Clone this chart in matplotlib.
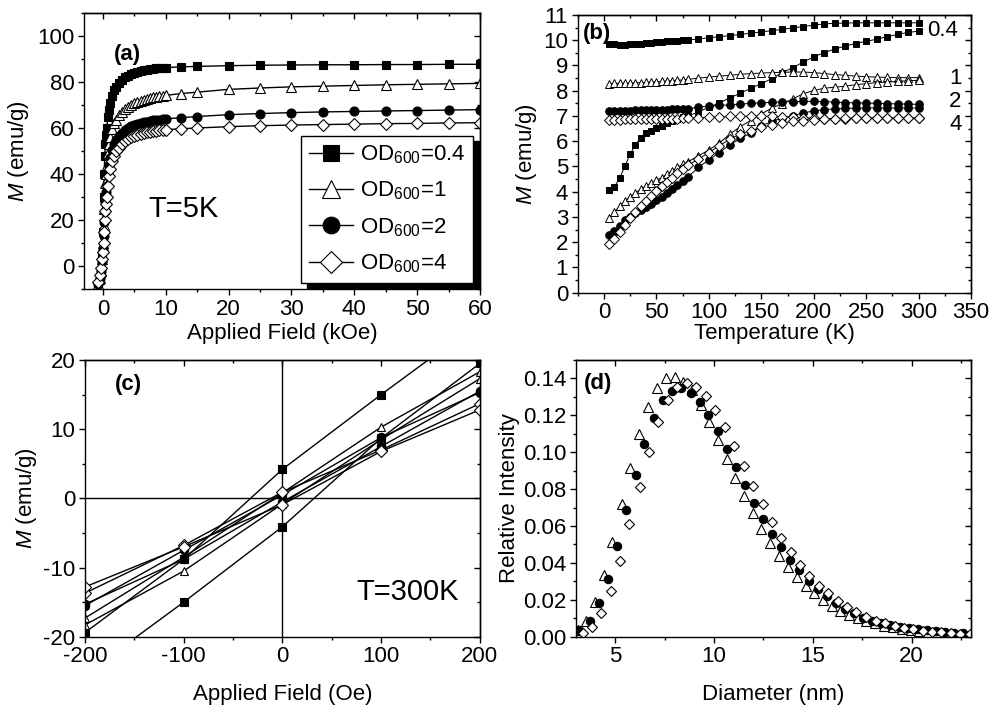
import matplotlib
matplotlib.use("Agg")
import matplotlib.pyplot as plt
from matplotlib.ticker import MultipleLocator, FormatStrFormatter
from matplotlib.patches import Rectangle
from matplotlib.transforms import IdentityTransform

plt.rcParams['font.family'] = ['Liberation Sans', 'DejaVu Sans']
plt.rcParams['mathtext.fontset'] = 'custom'
plt.rcParams['mathtext.rm'] = 'Liberation Sans'
plt.rcParams['mathtext.it'] = 'Liberation Sans:italic'
plt.rcParams['axes.linewidth'] = 1.0
plt.rcParams['axes.unicode_minus'] = False

# ---- (a) M-H a 5 K ----
H_a = [-0.8, -0.5, -0.3, -0.1, 0, 0.1, 0.2, 0.3, 0.4, 0.5, 0.6, 0.8, 1.0, 1.2, 1.5,
       1.8, 2.1, 2.5, 3.0, 3.5, 4.0, 4.5, 5.0, 5.5, 6.0, 6.5, 7.0, 7.5, 8.0, 8.5,
       9.0, 9.5, 10, 12.5, 15, 20, 25, 30, 35, 40, 45, 50, 55, 60]
M_a_04 = [-9, -6, -3, 5, 15, 30, 40, 48, 53, 57, 60, 65, 68, 71, 74,
          76.5, 78, 79.5, 81, 82, 82.8, 83.5, 84, 84.4, 84.8, 85.1, 85.4, 85.6, 85.8, 86,
          86.1, 86.2, 86.3, 86.6, 86.8, 87.1, 87.3, 87.4, 87.5, 87.5, 87.6, 87.6, 87.7, 87.7]
M_a_1 = [-8, -5, -2, 3, 10, 18, 25, 31, 36, 40, 44, 49, 53, 56, 59.5,
         62, 63.5, 65.5, 67, 68.3, 69.3, 70.1, 70.8, 71.4, 71.9, 72.3, 72.7, 73, 73.3, 73.6,
         73.8, 74, 74.2, 75, 75.6, 76.8, 77.4, 77.9, 78.2, 78.5, 78.8, 79, 79.2, 79.4]
M_a_2 = [-8, -5, -2, 2, 7, 13, 19, 24, 28, 32, 35, 40, 44, 47, 50.5,
         53, 54.8, 56.5, 58, 59.2, 60, 60.7, 61.3, 61.7, 62.1, 62.5, 62.8, 63.1, 63.3, 63.5,
         63.7, 63.9, 64, 64.5, 65, 65.8, 66.3, 66.7, 67, 67.2, 67.4, 67.6, 67.8, 68]
M_a_4 = [-7, -4, -1, 3, 6, 10, 15, 20, 24, 27, 30, 35, 39, 42, 45.5,
         48, 49.8, 51.5, 53, 54.3, 55.2, 55.9, 56.5, 57, 57.4, 57.8, 58.1, 58.4, 58.6, 58.8,
         59, 59.2, 59.3, 59.7, 60, 60.6, 61, 61.3, 61.5, 61.7, 61.9, 62, 62.2, 62.3]
etiquetas_od = ['OD$_{600}$=0.4', 'OD$_{600}$=1', 'OD$_{600}$=2', 'OD$_{600}$=4']

# ---- (b) ZFC / FC ----
T_b = [5, 10, 15, 20, 25, 30, 35, 40, 45, 50, 55, 60, 65, 70, 75, 80,
       90, 100, 110, 120, 130, 140, 150, 160, 170, 180, 190, 200, 210, 220, 230,
       240, 250, 260, 270, 280, 290, 300]
FC_04 = [9.86, 9.84, 9.83, 9.83, 9.84, 9.85, 9.87, 9.89, 9.91, 9.93, 9.95, 9.96, 9.98, 9.99, 10.0, 10.01,
         10.05, 10.1, 10.14, 10.18, 10.23, 10.28, 10.33, 10.38, 10.43, 10.49, 10.54, 10.6, 10.65, 10.67, 10.68,
         10.69, 10.69, 10.69, 10.69, 10.69, 10.69, 10.69]
ZFC_04 = [4.07, 4.2, 4.53, 5.02, 5.49, 5.86, 6.14, 6.32, 6.42, 6.51, 6.6, 6.72, 6.8, 6.88, 6.95, 7.01,
          7.15, 7.35, 7.52, 7.72, 7.9, 8.1, 8.28, 8.48, 8.72, 8.91, 9.14, 9.34, 9.51, 9.65, 9.77,
          9.87, 9.96, 10.04, 10.14, 10.23, 10.31, 10.36]
FC_1 = [8.28, 8.29, 8.3, 8.3, 8.3, 8.31, 8.32, 8.33, 8.34, 8.35, 8.37, 8.38, 8.4, 8.41, 8.43, 8.45,
        8.5, 8.54, 8.58, 8.61, 8.65, 8.68, 8.7, 8.72, 8.73, 8.74, 8.74, 8.72, 8.68, 8.64, 8.61,
        8.58, 8.56, 8.54, 8.53, 8.52, 8.52, 8.52]
ZFC_1 = [2.94, 3.19, 3.43, 3.63, 3.8, 3.96, 4.09, 4.22, 4.33, 4.45, 4.56, 4.69, 4.82, 4.96, 5.08, 5.18,
         5.42, 5.65, 5.93, 6.28, 6.58, 6.82, 7.08, 7.31, 7.49, 7.68, 7.88, 8.01, 8.1, 8.14, 8.18,
         8.24, 8.28, 8.32, 8.34, 8.37, 8.4, 8.41]
FC_2 = [7.19, 7.2, 7.2, 7.21, 7.21, 7.22, 7.22, 7.23, 7.23, 7.24, 7.25, 7.25, 7.26, 7.27, 7.27, 7.28,
        7.35, 7.39, 7.42, 7.44, 7.47, 7.5, 7.52, 7.54, 7.56, 7.57, 7.58, 7.58, 7.57, 7.55, 7.53,
        7.52, 7.51, 7.5, 7.49, 7.48, 7.47, 7.46]
ZFC_2 = [2.3, 2.43, 2.66, 2.87, 3.0, 3.14, 3.27, 3.4, 3.53, 3.67, 3.8, 3.96, 4.12, 4.26, 4.42, 4.58,
         4.96, 5.26, 5.55, 5.86, 6.11, 6.32, 6.59, 6.79, 6.92, 7.01, 7.12, 7.2, 7.25, 7.28, 7.3,
         7.31, 7.32, 7.32, 7.32, 7.32, 7.32, 7.32]
FC_4 = [6.86, 6.86, 6.86, 6.87, 6.87, 6.87, 6.88, 6.88, 6.88, 6.89, 6.89, 6.9, 6.9, 6.9, 6.91, 6.91,
        6.93, 6.95, 6.96, 6.98, 6.99, 6.99, 6.99, 6.98, 6.97, 6.95, 6.93, 6.91, 6.9, 6.9, 6.9,
        6.91, 6.91, 6.91, 6.91, 6.91, 6.91, 6.91]
ZFC_4 = [1.93, 2.13, 2.4, 2.7, 2.96, 3.2, 3.43, 3.63, 3.83, 4.03, 4.22, 4.4, 4.56, 4.73, 4.89, 5.05,
         5.29, 5.55, 5.82, 6.08, 6.28, 6.42, 6.55, 6.64, 6.72, 6.79, 6.82, 6.86, 6.88, 6.9, 6.91,
         6.92, 6.92, 6.92, 6.92, 6.92, 6.92, 6.92]
etiquetas_b = ['0.4', '1', '2', '4']

# ---- (c) lazos a 300 K ----
H_c = [-200, -100, 0, 100, 200]
rama_baja = {
    's': [-19.4, -8.8, 4.2, 15.0, 25.5],
    '^': [-17.3, -8.5, 0.8, 10.3, 18.3],
    'o': [-15.5, -7.5, 0.5, 8.8, 15.3],
    'D': [-13.7, -6.8, 0.9, 7.0, 13.7],
}
rama_sube = {
    's': [-25.5, -15.0, -4.1, 8.7, 19.5],
    '^': [-18.3, -10.5, -0.8, 8.5, 17.3],
    'o': [-15.3, -8.8, -0.5, 7.5, 15.5],
    'D': [-12.8, -7.0, -0.9, 6.8, 12.8],
}

# ---- (d) distribucion de tamanos ----
D_tri = [3.1, 3.51, 3.98, 4.41, 4.83, 5.31, 5.73, 6.19, 6.66, 7.12, 7.54, 8.0, 8.44, 8.86, 9.32,
         9.75, 10.19, 10.63, 11.07, 11.51, 11.95, 12.39, 12.83, 13.27, 13.75, 14.19, 14.63, 15.08,
         15.51, 15.95, 16.39, 16.83, 17.29, 17.71, 18.15, 18.6, 19.05, 19.5, 19.95, 20.4, 20.85,
         21.3, 21.75, 22.2, 22.65]
I_tri = [0.0036, 0.0087, 0.0187, 0.0337, 0.0513, 0.0717, 0.0917, 0.1098, 0.1246, 0.1346, 0.14,
         0.1409, 0.1382, 0.1337, 0.1255, 0.1165, 0.1065, 0.0965, 0.0862, 0.0761, 0.067, 0.0585,
         0.0507, 0.044, 0.0377, 0.0322, 0.0277, 0.0235, 0.0199, 0.0168, 0.0141, 0.0118, 0.01,
         0.0083, 0.0072, 0.006, 0.005, 0.0043, 0.0036, 0.003, 0.0025, 0.0021, 0.0018, 0.0015, 0.0013]
D_cir = [3.17, 3.69, 4.15, 4.63, 5.08, 5.54, 6.02, 6.47, 6.95, 7.41, 7.88, 8.34, 8.81, 9.27, 9.71,
         10.19, 10.63, 11.1, 11.54, 12.02, 12.49, 12.93, 13.41, 13.86, 14.32, 14.8, 15.25, 15.71,
         16.17, 16.63, 17.09, 17.55, 18.01, 18.47, 18.93, 19.39, 19.85, 20.31, 20.77, 21.23, 21.69,
         22.15, 22.61]
I_cir = [0.0036, 0.0087, 0.0181, 0.0313, 0.0491, 0.0688, 0.0878, 0.1047, 0.1188, 0.1282, 0.1333,
         0.1349, 0.1322, 0.1273, 0.1201, 0.1114, 0.1016, 0.092, 0.082, 0.0724, 0.0639, 0.0558,
         0.0485, 0.0417, 0.0359, 0.0304, 0.0259, 0.0219, 0.0184, 0.0152, 0.0126, 0.0104, 0.0087,
         0.0073, 0.0062, 0.0055, 0.0047, 0.004, 0.0034, 0.0029, 0.0025, 0.0021, 0.0018]
D_dia = [3.34, 3.81, 4.29, 4.76, 5.24, 5.71, 6.22, 6.69, 7.17, 7.66, 8.14, 8.61, 9.08, 9.58, 10.05,
         10.53, 11.02, 11.49, 11.98, 12.46, 12.93, 13.41, 13.88, 14.36, 14.83, 15.31, 15.78, 16.25,
         16.73, 17.2, 17.71, 18.19, 18.66, 19.14, 19.61, 20.08, 20.56, 21.03, 21.51, 21.98, 22.46,
         22.97]
I_dia = [0.0018, 0.0054, 0.0127, 0.025, 0.0413, 0.0609, 0.0811, 0.1002, 0.1165, 0.1282, 0.1355,
         0.1373, 0.1355, 0.1306, 0.1228, 0.1137, 0.1032, 0.0924, 0.0817, 0.0717, 0.0621, 0.0536,
         0.0458, 0.0391, 0.0331, 0.0277, 0.0235, 0.0196, 0.0159, 0.0132, 0.0105, 0.0087, 0.0072,
         0.006, 0.0047, 0.004, 0.0033, 0.0027, 0.0024, 0.002, 0.0016, 0.0014]

# marcador -> relleno
relleno = {'s': 'black', '^': 'white', 'o': 'black', 'D': 'white'}
TAM = 16


def ejes(ax, xmaj, xmin, ymaj, ymin):
    '''ticks estilo Origin: afuera abajo/izquierda, adentro arriba/derecha'''
    ax.xaxis.set_major_locator(MultipleLocator(xmaj))
    ax.xaxis.set_minor_locator(MultipleLocator(xmin))
    ax.yaxis.set_major_locator(MultipleLocator(ymaj))
    ax.yaxis.set_minor_locator(MultipleLocator(ymin))
    ax.tick_params(which='both', direction='out', labelsize=TAM, width=1, pad=3)
    ax.tick_params(which='major', length=4)
    ax.tick_params(which='minor', length=2.5)
    arriba = ax.secondary_xaxis('top')
    arriba.xaxis.set_major_locator(MultipleLocator(xmaj))
    arriba.xaxis.set_minor_locator(MultipleLocator(xmin))
    arriba.tick_params(which='both', direction='in', labeltop=False, width=1)
    arriba.tick_params(which='major', length=4)
    arriba.tick_params(which='minor', length=2.5)
    derecha = ax.secondary_yaxis('right')
    derecha.yaxis.set_major_locator(MultipleLocator(ymaj))
    derecha.yaxis.set_minor_locator(MultipleLocator(ymin))
    derecha.tick_params(which='both', direction='in', labelright=False, width=1)
    derecha.tick_params(which='major', length=4)
    derecha.tick_params(which='minor', length=2.5)


fig = plt.figure(figsize=(9.92, 7.08), dpi=100)
ax_a = fig.add_axes([0.0847, 0.5918, 0.3992, 0.3898])
ax_b = fig.add_axes([0.5824, 0.5866, 0.3965, 0.3922])
ax_c = fig.add_axes([0.0857, 0.1007, 0.3980, 0.3908])
ax_d = fig.add_axes([0.5806, 0.1007, 0.3980, 0.3908])

# (a)
series_a = [(M_a_04, 's', 6), (M_a_1, '^', 7), (M_a_2, 'o', 6.5), (M_a_4, 'D', 6)]
for (m, mk, ms), lab in zip(series_a, etiquetas_od):
    ax_a.plot(H_a, m, '-', color='black', lw=1.0, marker=mk, ms=ms,
              mfc=relleno[mk], mec='black', mew=0.8, label=lab)
ax_a.set_xlim(-3, 60)
ax_a.set_ylim(-10, 110)
ejes(ax_a, 10, 5, 20, 10)
ax_a.set_xlabel('Applied Field (kOe)', fontsize=TAM, labelpad=2)
ax_a.set_ylabel(r'$M$ (emu/g)', fontsize=TAM, labelpad=4)
ax_a.text(1.8, 92, '(a)', fontsize=16, fontweight='bold', va='center')
ax_a.text(7.3, 24.6, 'T=5K', fontsize=21, va='center')
leg = ax_a.legend(loc='lower right', bbox_to_anchor=(0.982, 0.022), borderaxespad=0,
                  fontsize=16, frameon=True, fancybox=False, edgecolor='black',
                  markerscale=1.85, handlelength=2.0, labelspacing=0.62, borderpad=0.35,
                  handletextpad=0.3, framealpha=1)
leg.get_frame().set_linewidth(1.0)

# sombra negra gruesa del cuadro de leyenda (como Origin)
fig.canvas.draw()
bb = leg.get_window_extent()
sombra = Rectangle((bb.x0 + 6, bb.y0 - 5), bb.width, bb.height, transform=IdentityTransform(),
                   facecolor='black', edgecolor='black', zorder=4.9, clip_on=False)
ax_a.add_patch(sombra)

# (b)
pares_b = [(FC_04, ZFC_04, 's', 5), (FC_1, ZFC_1, '^', 6), (FC_2, ZFC_2, 'o', 5.5), (FC_4, ZFC_4, 'D', 5.5)]
for fc, zfc, mk, ms in pares_b:
    for serie in (fc, zfc):
        ax_b.plot(T_b, serie, '-', color='black', lw=0.7, marker=mk, ms=ms,
                  mfc=relleno[mk], mec='black', mew=0.7)
pos_etq = [(308, 10.4), (329, 8.48), (329, 7.57), (329, 6.68)]
for (x, y), t in zip(pos_etq, etiquetas_b):
    ax_b.text(x, y, t, fontsize=TAM, va='center', ha='left')
ax_b.set_xlim(-25, 350)
ax_b.set_ylim(0, 11)
ejes(ax_b, 50, 25, 1, 0.5)
ax_b.set_xlabel('Temperature (K)', fontsize=TAM, labelpad=0)
ax_b.set_ylabel(r'$M$ (emu/g)', fontsize=TAM, labelpad=3)
ax_b.text(-20, 10.27, '(b)', fontsize=16, fontweight='bold', va='center')

# (c)
ax_c.axhline(0, color='black', lw=1.0)
ax_c.axvline(0, color='black', lw=1.0)
for mk in ['s', '^', 'o', 'D']:
    for rama in (rama_baja, rama_sube):
        ax_c.plot(H_c, rama[mk], '-', color='black', lw=1.0, marker=mk, ms=6,
                  mfc=relleno[mk], mec='black', mew=0.8)
ax_c.set_xlim(-200, 200)
ax_c.set_ylim(-20, 20)
ejes(ax_c, 100, 50, 10, 5)
ax_c.set_xlabel('Applied Field (Oe)', fontsize=TAM, labelpad=12)
ax_c.set_ylabel(r'$M$ (emu/g)', fontsize=TAM, labelpad=3)
ax_c.text(-170, 16.5, '(c)', fontsize=16, fontweight='bold', va='center')
ax_c.text(75, -13.6, 'T=300K', fontsize=21, va='center')

# (d)
ax_d.plot(D_tri, I_tri, ls='none', marker='^', ms=6.5, mfc='white', mec='black', mew=0.8)
ax_d.plot(D_cir, I_cir, ls='none', marker='o', ms=6, mfc='black', mec='black', mew=0.8)
ax_d.plot(D_dia, I_dia, ls='none', marker='D', ms=5.5, mfc='white', mec='black', mew=0.8)
ax_d.set_xlim(3, 23)
ax_d.set_ylim(0, 0.15)
ejes(ax_d, 5, 2.5, 0.02, 0.01)
ax_d.yaxis.set_major_formatter(FormatStrFormatter('%.2f'))
ax_d.set_xlabel('Diameter (nm)', fontsize=TAM, labelpad=12)
ax_d.set_ylabel('Relative Intensity', fontsize=TAM, labelpad=2)
ax_d.text(3.4, 0.1375, '(d)', fontsize=16, fontweight='bold', va='center')

plt.savefig('out.png', dpi=100)
plt.close()
